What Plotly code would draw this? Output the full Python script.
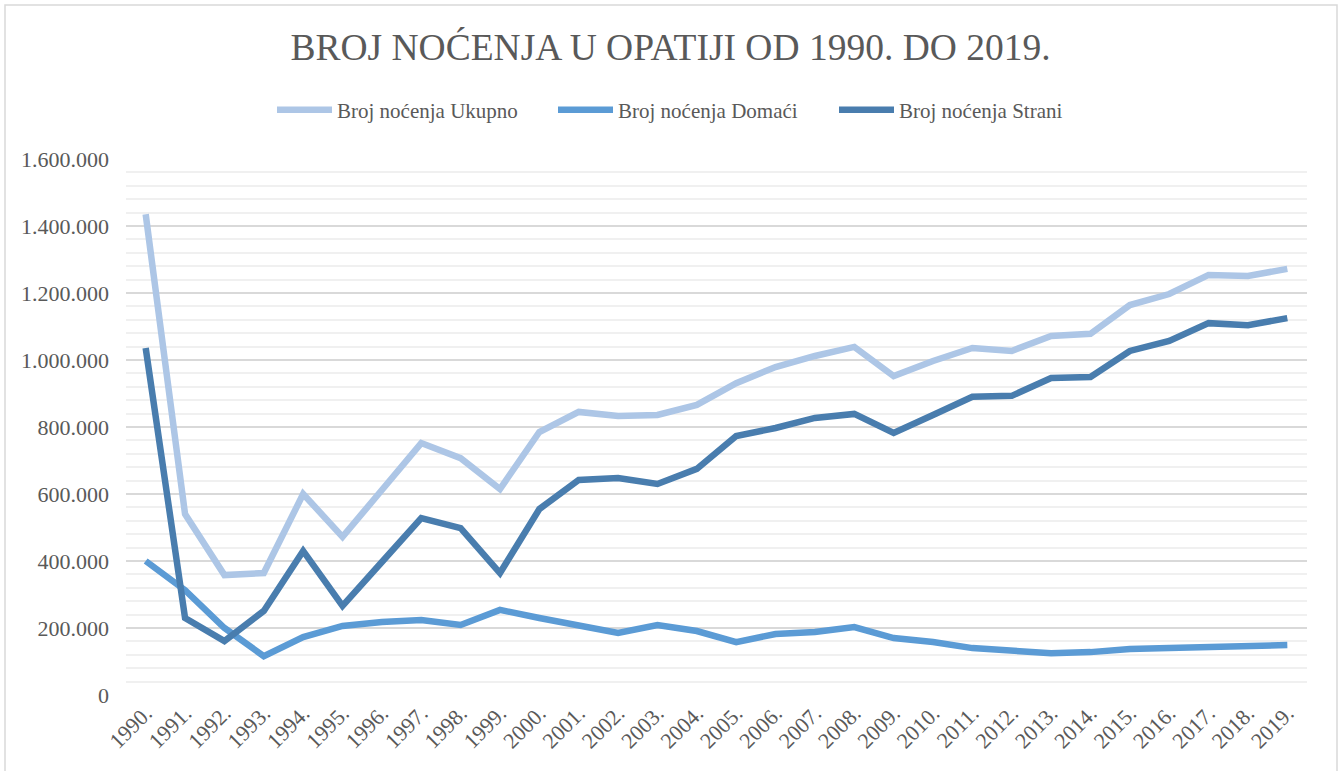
import plotly.graph_objects as go

years = [f"{y}." for y in range(1990, 2020)]

ukupno = [1435000, 540000, 358000, 364000, 600000, 472000, 612000, 752000, 707000, 615000,
          785000, 845000, 833000, 836000, 866000, 931000, 979000, 1012000, 1039000, 952000,
          997000, 1036000, 1027000, 1072000, 1078000, 1164000, 1197000, 1254000, 1251000, 1272000]

domaci = [400000, 313000, 200000, 116000, 173000, 206000, 218000, 224000, 209000, 254000,
          230000, 206000, 185000, 209000, 191000, 158000, 182000, 188000, 203000, 170000,
          158000, 140000, 131000, 125000, 128000, 137000, 140000, 143000, 146000, 149000]

strani = [1036000, 230000, 161000, 251000, 430000, 266000, 397000, 528000, 498000, 364000,
          555000, 642000, 648000, 630000, 675000, 773000, 797000, 827000, 839000, 782000,
          836000, 890000, 893000, 946000, 949000, 1027000, 1057000, 1110000, 1104000, 1125000]

series_names = ["Broj noćenja Ukupno", "Broj noćenja Domaći", "Broj noćenja Strani"]
series_colors = ["#adc6e6", "#5b9bd5", "#497dae"]

y_ticks = list(range(0, 1600001, 200000))
y_tick_labels = ["0" if v == 0 else f"{v:,}".replace(",", ".") for v in y_ticks]

FONT = "Liberation Serif, Times New Roman, serif"
GREY = "#595959"

fig = go.Figure()
for name, vals, col in zip(series_names, [ukupno, domaci, strani], series_colors):
    fig.add_trace(go.Scatter(
        x=years, y=vals, name=name, mode="lines",
        line=dict(color=col, width=6.5, shape="linear"),
    ))

W, H = 1341, 771
L, R, T, B = 126, 34, 159, 76
pw, ph = W - L - R, H - T - B

fig.update_layout(
    width=W, height=H,
    margin=dict(l=L, r=R, t=T, b=B, autoexpand=False),
    paper_bgcolor="white", plot_bgcolor="white",
    font=dict(family=FONT, color=GREY, size=21),
    title=dict(text="BROJ NOĆENJA U OPATIJI OD 1990. DO 2019.",
               x=0.5, xref="container", xanchor="center",
               y=1 - 47 / H, yref="container", yanchor="middle",
               font=dict(family=FONT, size=37.5, color=GREY)),
    legend=dict(orientation="h", x=(280 - 8) / W, xref="container", xanchor="left",
                y=1 - 110 / H, yref="container", yanchor="middle",
                font=dict(family=FONT, size=21, color=GREY),
                itemwidth=55, entrywidth=211, entrywidthmode="pixels",
                traceorder="normal", bgcolor="rgba(0,0,0,0)"),
    showlegend=True,
    xaxis=dict(type="category", range=[-0.5, 29.5], tickangle=-45, automargin=False,
               showgrid=False, showline=False, zeroline=False, ticks="",
               tickfont=dict(family=FONT, size=22, color=GREY)),
    yaxis=dict(range=[0, 1600000], tickvals=y_ticks, ticktext=y_tick_labels, automargin=False,
               showgrid=True, gridcolor="#d9d9d9", gridwidth=1.5,
               zeroline=False, showline=False, ticks="", ticklabelstandoff=16,
               tickfont=dict(family=FONT, size=22, color=GREY),
               minor=dict(dtick=40000, showgrid=True, gridcolor="#f0f0f0", gridwidth=1.5)),
    shapes=[dict(type="rect", xref="paper", yref="paper",
                 x0=(5 - L) / pw, x1=(1337 - L) / pw,
                 y0=(H - B - 790) / ph, y1=(H - B - 5) / ph,
                 line=dict(color="#d9d9d9", width=1.5), fillcolor="rgba(0,0,0,0)",
                 layer="below")],
)

fig.write_html("out.html", config={"displayModeBar": False},
               post_script="document.body.style.margin='0';document.body.style.padding='0';")
